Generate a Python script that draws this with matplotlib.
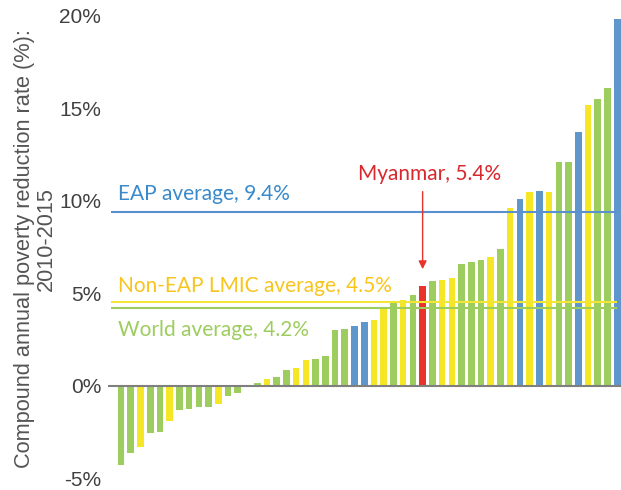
import matplotlib
matplotlib.use("Agg")
import matplotlib.pyplot as plt

values = [-4.3, -3.65, -3.3, -2.57, -2.5, -1.92, -1.34, -1.25, -1.18, -1.18,
          -1.0, -0.58, -0.42, -0.05, 0.12, 0.38, 0.47, 0.87, 0.97, 1.4,
          1.46, 1.62, 3.0, 3.07, 3.24, 3.44, 3.57, 4.24, 4.5, 4.65,
          4.9, 5.4, 5.65, 5.72, 5.8, 6.6, 6.7, 6.8, 6.97, 7.4,
          9.6, 10.1, 10.45, 10.52, 10.5, 12.1, 12.1, 13.7, 15.2, 15.5,
          16.1, 19.85]
groups = list("ggyggyggggyggggyggyyggggbbyygygrgyygggyg" "ybybyggbyggb")
group_colors = {"g": "#9dcd5e", "y": "#f5e726", "b": "#5f97cc", "r": "#e8322a"}

averages = [9.4, 4.5, 4.2]
average_labels = ["EAP average, 9.4%", "Non-EAP LMIC average, 4.5%", "World average, 4.2%"]
line_colors = ["#5a8fd0", "#f3e535", "#9dcd5e"]
text_colors = ["#3a8acb", "#f7c51e", "#9dcd5e"]

yticks = [-5, 0, 5, 10, 15, 20]
ytick_labels = ["-5%", "0%", "5%", "10%", "15%", "20%"]
ylabel_lines = ["Compound annual poverty reduction rate (%):", "2010-2015"]
highlight_index = 31
highlight_label = "Myanmar, 5.4%"

W, H = 621, 490
fig = plt.figure(figsize=(W / 100, H / 100), dpi=100)
left, right = 108 / W, 621 / W
bottom, top = (H - 478) / H, (H - 16) / H
ax = fig.add_axes([left, bottom, right - left, top - bottom])

x = list(range(len(values)))
ax.bar(x, values, width=0.68, color=[group_colors[g] for g in groups],
       edgecolor="none", zorder=2)
ax.set_xlim(-1.34, 51.39)
ax.set_ylim(-5, 20)

ax.axhline(0, color="#7f7f7f", lw=1.5, zorder=3)
for v, c in zip(averages, line_colors):
    ax.hlines(v, -1.03, 51.0, color=c, lw=1.5, zorder=3)

for s in ax.spines.values():
    s.set_visible(False)
ax.set_xticks([])
ax.set_yticks(yticks)
ax.set_yticklabels(ytick_labels, fontsize=15, color="#404040", family="Liberation Sans")
ax.tick_params(axis="y", length=0, pad=5)

fig.text(25 / W, 1 - 249 / H, ylabel_lines[0], rotation=90, ha="center", va="center",
         fontsize=15.7, color="#555555", family="Liberation Sans")
fig.text(46 / W, 1 - 239 / H, ylabel_lines[1], rotation=90, ha="center", va="center",
         fontsize=15.7, color="#555555", family="Liberation Sans")

tfont = "Lato"
fs = 15
ax.text(-0.31, 10.03, average_labels[0], color=text_colors[0],
        fontsize=fs, family=tfont, va="baseline", ha="left")
ax.text(-0.31, 5.06, average_labels[1], color=text_colors[1],
        fontsize=fs, family=tfont, va="baseline", ha="left")
ax.text(-0.31, 2.71, average_labels[2], color=text_colors[2],
        fontsize=fs, family=tfont, va="baseline", ha="left")

ax.text(24.36, 11.11, highlight_label, color="#d8282e",
        fontsize=fs, family=tfont, va="baseline", ha="left")
ax.annotate("", xy=(highlight_index, 6.3),
            xytext=(highlight_index, 10.5),
            arrowprops=dict(arrowstyle="-|>", color="#e8322a", lw=1.0,
                            mutation_scale=12, shrinkA=0, shrinkB=0))

fig.savefig("out.png", dpi=100)
